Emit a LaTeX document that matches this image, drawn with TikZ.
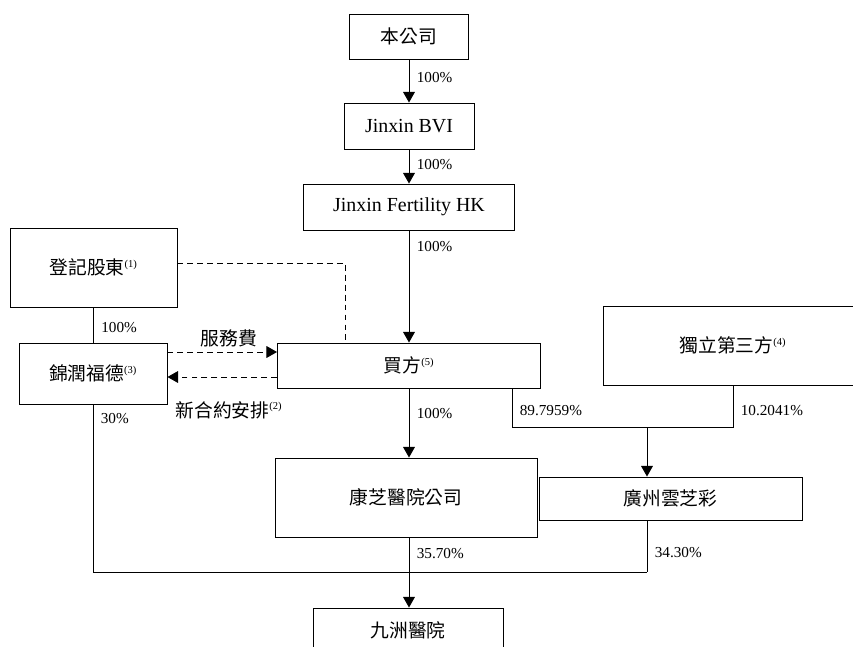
\documentclass[tikz,border=0pt]{standalone}
\usepackage{fontspec}
\setmainfont{Liberation Serif}
\newfontfamily\cjk{Noto Sans CJK TC}
\usetikzlibrary{arrows.meta,positioning}
\newcommand\fnote[1]{\textsuperscript{\rmfamily\fontsize{9}{9}\selectfont(#1)}}
\tikzset{
  box/.style 2 args={draw, inner sep=0pt, minimum width=#1cm, minimum height=#2cm,
    font=\cjk\fontsize{16}{19}\selectfont},
  latin/.style={font=\fontsize{17}{20}\selectfont},
  pct/.style={font=\fontsize{13}{15}\selectfont, inner sep=0pt, anchor=west, xshift=0.22cm},
  cjklabel/.style={font=\cjk\fontsize{16}{19}\selectfont},
  arr/.style={-{Triangle[length=9pt,width=10pt]}},
  dashline/.style={dash pattern=on 5pt off 3.5pt},
}
\begin{document}
\begin{tikzpicture}[x=0.03cm, y=-0.03cm, line width=0.8pt]
  \useasboundingbox (0,0) rectangle (853,646);
  \clip (0,0) rectangle (853,646);
  % boxes
  \node[box={3.57}{1.35}] (top) at (409,36.5) {本公司};
  \node[box={3.9}{1.38}, latin] (bvi) at (409,126) {Jinxin BVI};
  \node[box={6.33}{1.38}, latin] (hk) at (409,207) {Jinxin Fertility HK};
  \node[box={5.01}{2.37}] (reg) at (93.5,267.5) {登記股東\fnote{1}};
  \node[box={4.44}{1.83}] (jrfd) at (93,373.5) {錦潤福德\fnote{3}};
  \node[box={7.89}{1.35}] (buyer) at (409,365.5) {買方\fnote{5}};
  \node[box={7.8}{2.37}] (third) at (733,345.5) {獨立第三方\fnote{4}};
  \node[box={7.89}{1.29}] (yzc) at (670.5,498.5) {廣州雲芝彩};
  \node[box={7.86}{2.37}] (kz) at (406,497.5) {康芝醫院公司};
  \node[box={5.7}{1.32}] (jz) at (408,630) {九洲醫院};
  \coordinate (split) at (512,427);
  \coordinate (fork) at (647,427);
  \coordinate (merge) at (409,572);
  % holdings
  \draw[arr] (top) -- (bvi) node[pct, pos=0.41] {100\%};
  \draw[arr] (bvi) -- (hk) node[pct, pos=0.43] {100\%};
  \draw[arr] (hk) -- (buyer) node[pct, pos=0.14] {100\%};
  \draw[arr] (buyer) -- (buyer.south |- kz.north) node[pct, pos=0.36] {100\%};
  \draw (reg.south) -- (reg.south |- jrfd.north) node[pct, pos=0.58] {100\%};
  \draw (split |- buyer.south) -- (split) node[pct, pos=0.56] {89.7959\%}
    -| (third.south) node[pct, pos=0.7] {10.2041\%};
  \draw[arr] (fork) -- (fork |- yzc.north);
  \draw (jrfd.south) |- (fork |- merge) node[pct, pos=0.042] {30\%};
  \draw (fork |- yzc.south) -- (fork |- merge) node[pct, pos=0.63] {34.30\%};
  \draw[arr] (merge |- kz.south) -- (merge |- jz.north) node[pct, pos=0.23] {35.70\%};
  % contracts
  \draw[dashline] ([yshift=0.135cm]reg.east) -| ([xshift=-1.92cm]buyer.north);
  \draw[dashline, arr] ([yshift=0.645cm]jrfd.east) -- ([yshift=0.645cm]jrfd.east -| buyer.west)
    node[cjklabel, midway, yshift=0.42cm, xshift=0.2cm] {服務費};
  \draw[dashline, arr] ([yshift=-0.105cm]jrfd.east -| buyer.west) -- ([yshift=-0.105cm]jrfd.east)
    node[cjklabel, midway, yshift=-0.99cm, xshift=0.2cm] {新合約安排\fnote{2}};
\end{tikzpicture}
\end{document}
